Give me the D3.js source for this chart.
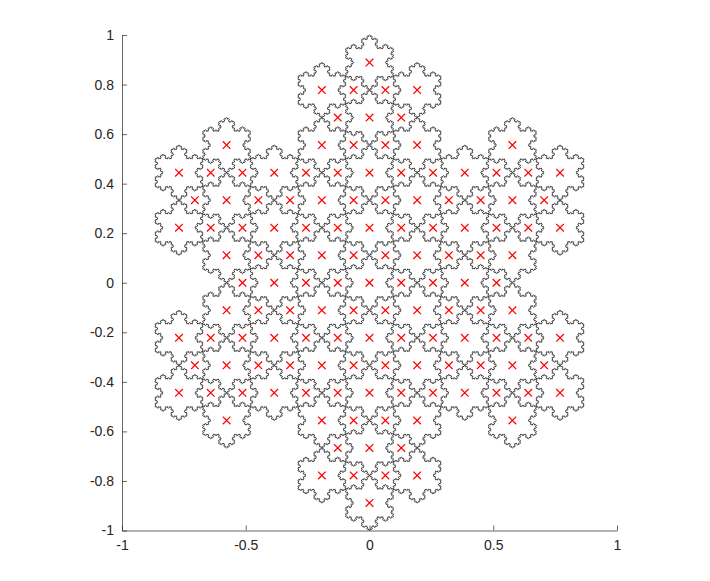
<!DOCTYPE html>
<html>
<head>
<meta charset="utf-8">
<script src="https://cdn.jsdelivr.net/npm/d3@7/dist/d3.min.js"></script>
<style>
html,body{margin:0;padding:0;background:#fff}
svg{display:block}
text{font-family:"Liberation Sans",Arial,sans-serif;font-size:14px;fill:#262626}
</style>
</head>
<body>
<svg id="c" width="710" height="581"></svg>
<script>
const xTicks = [-1, -0.5, 0, 0.5, 1];
const yTicks = [-1, -0.8, -0.6, -0.4, -0.2, 0, 0.2, 0.4, 0.6, 0.8, 1];

// Row heights of the flake centres
const rowY = [0.8889, 0.7778, 0.6667, 0.5556, 0.4444, 0.3333, 0.2222, 0.1111, 0,
  -0.1111, -0.2222, -0.3333, -0.4444, -0.5556, -0.6667, -0.7778, -0.8889];

// Centre abscissae of big flakes, by row pattern
const bigA = [0];
const bigB = [-0.1925, 0.1925];
const bigC = [-0.5774, -0.1925, 0.1925, 0.5774];
const bigD = [-0.7698, -0.3849, 0, 0.3849, 0.7698];
const bigE = [-0.3849, 0, 0.3849];

// Centre abscissae of small flakes, by row pattern
const smallNone = [];
const smallA = [-0.0642, 0.0642];
const smallB = [-0.1283, 0.1283];
const smallC = [-0.6415, -0.5132, -0.2566, -0.1283, 0.1283, 0.2566, 0.5132, 0.6415];
const smallD = [-0.7057, -0.4491, -0.3208, -0.0642, 0.0642, 0.3208, 0.4491, 0.7057];
const smallE = [-0.4491, -0.3208, -0.0642, 0.0642, 0.3208, 0.4491];
const smallF = [-0.5132, -0.2566, -0.1283, 0.1283, 0.2566, 0.5132];

const rowBig = [bigA, bigB, bigA, bigC, bigD, bigC, bigD, bigC, bigE,
  bigC, bigD, bigC, bigD, bigC, bigA, bigB, bigA];
const rowSmall = [smallNone, smallA, smallB, smallA, smallC, smallD, smallC, smallE, smallF,
  smallE, smallC, smallD, smallC, smallA, smallB, smallA, smallNone];

const bigRadius = 1 / 9;
const depth = 3;

const x = d3.scaleLinear().domain([-1, 1]).range([122, 617]);
const y = d3.scaleLinear().domain([-1, 1]).range([530.5, 35]);
const svg = d3.select("#c");

function koch(a, b, level, out) {
  if (level === 0) { out.push(b); return; }
  const dx = (b[0] - a[0]) / 3, dy = (b[1] - a[1]) / 3;
  const p = [a[0] + dx, a[1] + dy];
  const q = [a[0] + 2 * dx, a[1] + 2 * dy];
  const s3 = Math.sqrt(3) / 2;
  // clockwise hexagon: bumps turn inward
  const t = [p[0] + dx / 2 + s3 * dy, p[1] + dy / 2 - s3 * dx];
  koch(a, p, level - 1, out);
  koch(p, t, level - 1, out);
  koch(t, q, level - 1, out);
  koch(q, b, level - 1, out);
}
// Each big flake is a hexagon with inward bumps. Every border of a small
// flake is a border of a big one, so drawing the big ones draws them all once.
function flake(cx, cy) {
  const v = d3.range(6).map(i => {
    const ang = Math.PI / 2 - i * Math.PI / 3;
    return [cx + bigRadius * Math.cos(ang), cy + bigRadius * Math.sin(ang)];
  });
  const pts = [v[0]];
  for (let i = 0; i < 6; i++) koch(v[i], v[(i + 1) % 6], depth, pts);
  return pts;
}

const flakes = [], centres = [];
rowY.forEach((yy, i) => {
  rowBig[i].forEach(xx => { flakes.push(flake(xx, yy)); centres.push([xx, yy]); });
  rowSmall[i].forEach(xx => { centres.push([xx, yy]); });
});

const line = d3.line().x(d => x(d[0])).y(d => y(d[1]));
svg.append("g").selectAll("path").data(flakes).join("path")
  .attr("d", d => line(d) + "Z")
  .attr("fill", "none").attr("stroke", "#111").attr("stroke-width", 0.75);

const mark = 3.8;
svg.append("g").selectAll("path").data(centres).join("path")
  .attr("transform", d => `translate(${x(d[0])},${y(d[1])})`)
  .attr("d", () => { const p = d3.path(); p.moveTo(-mark, -mark); p.lineTo(mark, mark); p.moveTo(-mark, mark); p.lineTo(mark, -mark); return p.toString(); })
  .attr("fill", "none").attr("stroke", "#ff0000").attr("stroke-width", 1.25);

const xAxis = svg.append("g").attr("transform", `translate(0,${y(-1)})`)
  .call(d3.axisBottom(x).tickValues(xTicks).tickFormat(d3.format("")).tickSizeInner(-5).tickSizeOuter(0).tickPadding(10));
const yAxis = svg.append("g").attr("transform", `translate(${x(-1)},0)`)
  .call(d3.axisLeft(y).tickValues(yTicks).tickFormat(d3.format("")).tickSizeInner(-5).tickSizeOuter(0).tickPadding(8));
[xAxis, yAxis].forEach(g => {
  g.attr("font-size", 14).attr("font-family", null);
  g.selectAll("path,line").attr("stroke", "#262626").attr("stroke-width", 0.7);
  g.selectAll("text").text(function () { return this.textContent.replace("\u2212", "-"); });
});
</script>
</body>
</html>
